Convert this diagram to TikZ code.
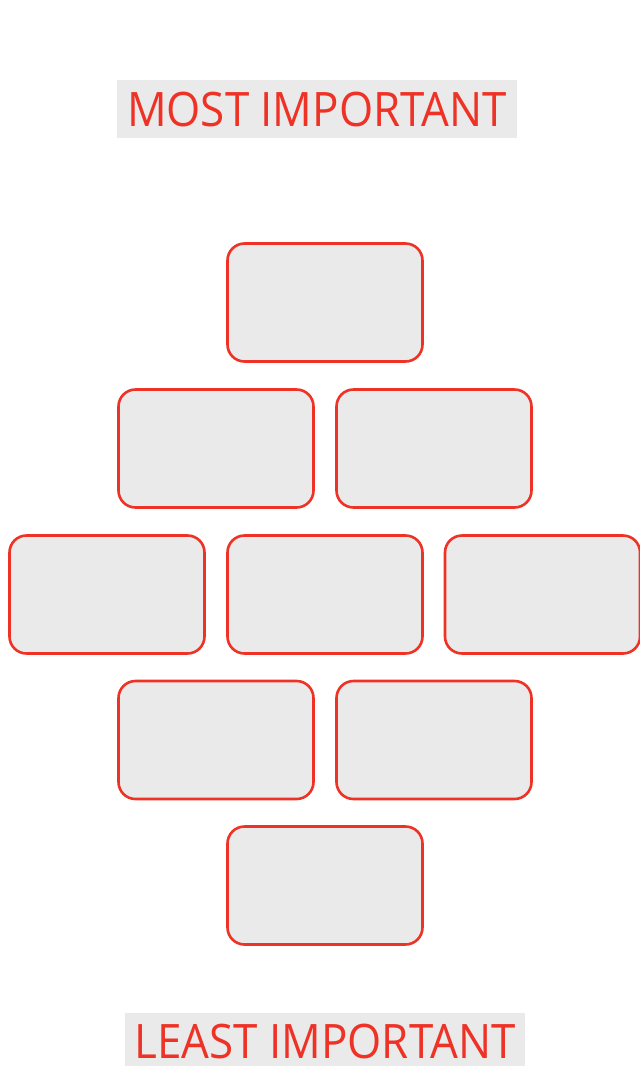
\documentclass[tikz,border=0pt]{standalone}
\usepackage{fontspec}
\setmainfont{Open Sans}
\newfontfamily\bannerfont[FakeStretch=0.925]{Open Sans}
\definecolor{accent}{RGB}{238,50,38}
\definecolor{panel}{RGB}{234,234,234}
\begin{document}
\begin{tikzpicture}[x=1pt,y=-1pt,
  rankbox/.style={draw=accent,fill=panel,line width=2.6pt,rounded corners=17pt,
    minimum width=195pt,minimum height=118pt,inner sep=0pt,outer sep=0pt},
  banner/.style={fill=panel,minimum width=400pt,inner sep=0pt,
    text=accent,font=\bannerfont\fontsize{47.5}{48}\selectfont,text depth=0pt}]
\useasboundingbox (0,0) rectangle (640,1066);
\node[banner,minimum height=58pt,text height=34pt] (most) at (317,109) {MOST IMPORTANT};
\node[banner,minimum height=53pt,text height=37pt] (least) at (325,1039.5) {LEAST IMPORTANT};
\node[rankbox] (r1) at (325,302.5) {};
\node[rankbox] (r2a) at (216,448.5) {};
\node[rankbox] (r2b) at (434,448.5) {};
\node[rankbox] (r3a) at (107,594.5) {};
\node[rankbox] (r3b) at (325,594.5) {};
\node[rankbox] (r3c) at (542.5,594.5) {};
\node[rankbox] (r4a) at (216,740) {};
\node[rankbox] (r4b) at (434,740) {};
\node[rankbox] (r5) at (325,885.5) {};
\end{tikzpicture}
\end{document}
